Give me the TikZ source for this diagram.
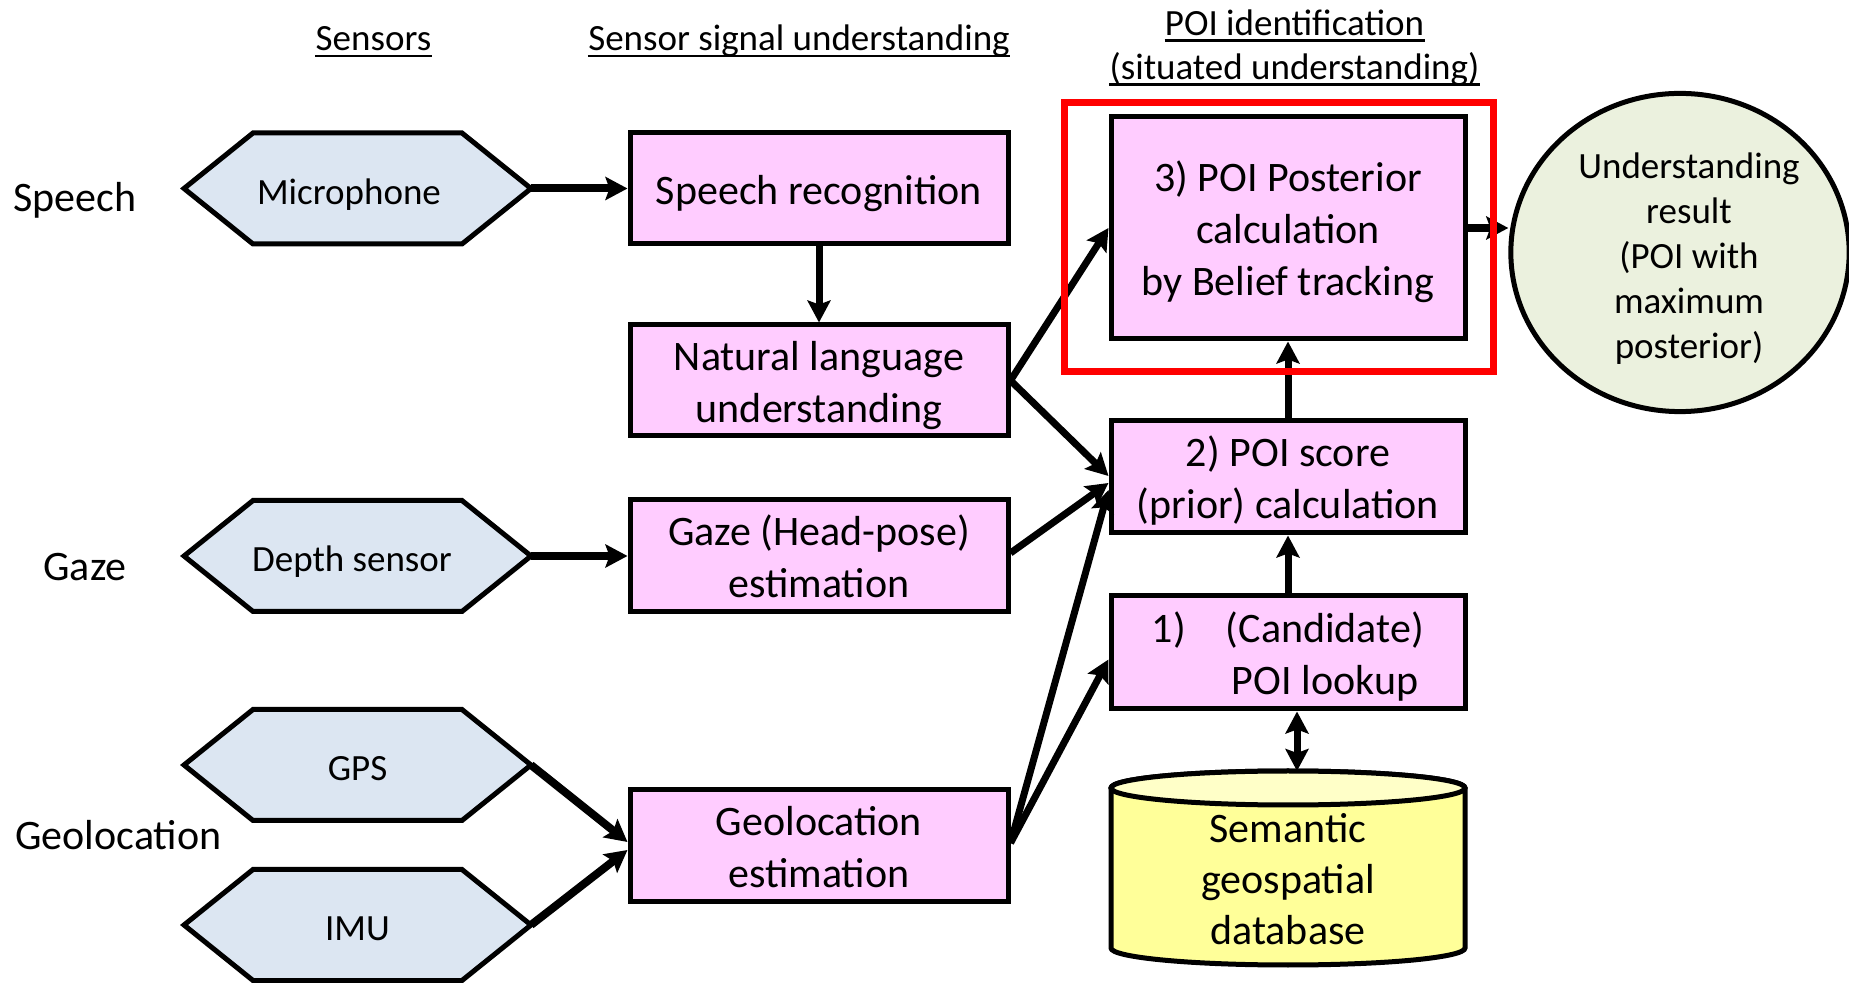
\documentclass[tikz,border=0pt]{standalone}
\usepackage{fontspec}
\setmainfont{Carlito}
\usetikzlibrary{arrows.meta,calc,shapes.geometric}

\definecolor{hexblue}{HTML}{DCE6F2}
\definecolor{boxpink}{HTML}{FFCCFF}
\definecolor{resgreen}{HTML}{EBF1DE}
\definecolor{dbyellow}{HTML}{FFFF99}
\definecolor{dbtopyellow}{HTML}{FFFFC8}

% fixed line heights so every sensor label sits at the same baseline
\newcommand\topstrutof[1]{\rule{0pt}{#1}}
\newcommand\botstrutof[1]{\rule[-#1]{0pt}{#1}}
% centred lines of a stage box, set a little low as in the slide
\newcommand\stagetext[1]{\raisebox{-2.75pt}[\height][\depth]{\begin{tabular}{@{}c@{}}#1\end{tabular}}}

\tikzset{
  hexshape/.style={draw=black, fill=hexblue, line width=2.5pt},
  hextext/.style={inner sep=0pt, outer sep=0pt, minimum width=173.5pt,
    minimum height=55.5pt, font=\fontsize{18.5}{22.5}\selectfont,
    execute at begin node=\topstrutof{21pt},
    execute at end node=\botstrutof{5pt}},
  stagebox/.style={draw=black, fill=boxpink, line width=2.5pt, inner sep=0pt,
    font=\fontsize{21}{26}\selectfont},
  rowlabel/.style={anchor=base west, inner sep=0pt,
    font=\fontsize{21}{25.5}\selectfont},
  header/.style={anchor=base, inner sep=0pt,
    font=\fontsize{18.5}{22.5}\selectfont},
  resultnode/.style={ellipse, draw=black, fill=resgreen, line width=2.5pt,
    minimum width=168pt, minimum height=135.5pt, inner sep=0pt,
    font=\fontsize{18.5}{22.5}\selectfont},
  dbtext/.style={inner sep=0pt, align=center,
    font=\fontsize{21}{25.5}\selectfont},
  flow/.style={line width=3.5pt, -{Stealth[length=11pt,width=11.5pt,inset=2pt]}},
  bigflow/.style={flow, line width=4pt},
  ulinestyle/.style={line width=1.2pt},
}

% sensor hexagon: name, centre x, centre y, text
\newcommand\sensorhex[4]{%
  \filldraw[hexshape] (#2-173.5,#3) -- ++(69,-55.5) -- ++(209,0)
    -- ++(69,55.5) -- ++(-69,55.5) -- ++(-209,0) -- cycle;
  \node[hextext] (#1) at (#2,#3) {#4};
}

\begin{document}
\begin{tikzpicture}[x=0.5pt,y=-0.5pt]
\useasboundingbox (0,0) rectangle (1849,983);

% column headers
\node[header] (hsens) at (373.5,51) {Sensors};
\node[header] (hsig) at (799,51) {Sensor signal understanding};
\node[header] (hpoi1) at (1294.5,35.5) {POI identification};
\node[header] (hpoi2) at (1294.5,79.5) {(situated understanding)};
\foreach \h in {hsens,hsig,hpoi1,hpoi2}
  \draw[ulinestyle] ([yshift=-2.5pt]\h.base west) -- ([yshift=-2.5pt]\h.base east);

% row labels
\node[rowlabel] (lspeech) at (13,212) {Speech};
\node[rowlabel] (lgaze) at (43,581) {Gaze};
\node[rowlabel] (lgeo) at (15,850) {Geolocation};

% sensors
\sensorhex{mic}{357.5}{188.5}{\hspace*{-8.5pt}Microphone}
\sensorhex{depth}{357.5}{556}{\hspace*{-5.5pt}Depth sensor}
\sensorhex{gps}{357.5}{765}{GPS}
\sensorhex{imu}{357.5}{925}{IMU}

% sensor signal understanding
\node[stagebox, minimum width=189pt, minimum height=55.5pt] (sr) at (819,188.5) {\stagetext{Speech recognition}};
\node[stagebox, minimum width=189pt, minimum height=55.5pt] (nlu) at (819,380.5) {\stagetext{Natural language\\understanding}};
\node[stagebox, minimum width=189pt, minimum height=56pt] (gazeest) at (819,556) {\stagetext{Gaze (Head-pose)\\estimation}};
\node[stagebox, minimum width=189pt, minimum height=56pt] (geo) at (819,846) {\stagetext{Geolocation\\estimation}};

% POI identification
\node[stagebox, minimum width=177pt, minimum height=111pt] (post) at (1288,228) {\stagetext{3) POI Posterior\\calculation\\by Belief tracking}};
\node[stagebox, minimum width=177pt, minimum height=56pt] (score) at (1288,477) {\stagetext{2) POI score\\(prior) calculation}};
\node[stagebox, minimum width=177pt, minimum height=56.5pt] (lookup) at (1288,652.5)
  {\raisebox{-2.75pt}[\height][\depth]{\begin{tabular}{@{}l@{\hspace{20pt}}c@{}}1) & (Candidate)\\ & POI lookup\end{tabular}}};

% semantic geospatial database
\filldraw[draw=black, fill=dbyellow, line width=2.5pt]
  (1111,788) -- (1111,948)
  arc[start angle=180, end angle=360, x radius=88.5pt, y radius=8.5pt]
  -- (1465,788)
  arc[start angle=0, end angle=180, x radius=88.5pt, y radius=8.5pt] -- cycle;
\filldraw[draw=black, fill=dbtopyellow, line width=2.5pt]
  (1288,788) ellipse[x radius=88.5pt, y radius=8.5pt];
\coordinate (dbtop) at (1297,771);
\node[dbtext] (db) at (1288,879) {Semantic\\geospatial\\database};

% result
\node[resultnode] (res) at (1680,252.5)
  {\hspace*{9pt}\raisebox{-3.75pt}[\height][\depth]{\begin{tabular}{@{}c@{}}Understanding\\result\\(POI with\\maximum\\posterior)\end{tabular}}};

% connectors
\draw[bigflow] (mic.east) -- (sr.west);
\draw[bigflow] (depth.east) -- (gazeest.west);
\draw[bigflow] (gps.east) -- ($(geo.west)+(0,-4)$);
\draw[bigflow] (imu.east) -- ($(geo.west)+(0,4)$);
\draw[flow] (sr.south) -- (nlu.north);
\draw[flow] (nlu.east) -- (post.west);
\draw[flow] (nlu.east) -- ($(score.west)+(0,-1)$);
\draw[flow] ($(gazeest.east)+(0,-3)$) -- ($(score.west)+(0,6)$);
\draw[flow] ($(geo.east)+(0,-3)$) -- ($(score.west)+(0,13)$);
\draw[flow] ($(geo.east)+(0,-3)$) -- ($(lookup.west)+(0,7)$);
\draw[flow] (lookup.north) -- (score.south);
\draw[flow] (score.north) -- (post.south);
\draw[line width=3.5pt, {Stealth[length=11pt,width=11.5pt,inset=2pt]}-{Stealth[length=11pt,width=11.5pt,inset=2pt]}]
  ($(lookup.south)+(9,0)$) -- (dbtop);
\draw[bigflow] (post.east) -- (post.east -| res.west);

% highlight frame
\draw[red, line width=3.5pt] (1064.5,102.5) rectangle (1493.5,371.5);
\end{tikzpicture}
\end{document}
